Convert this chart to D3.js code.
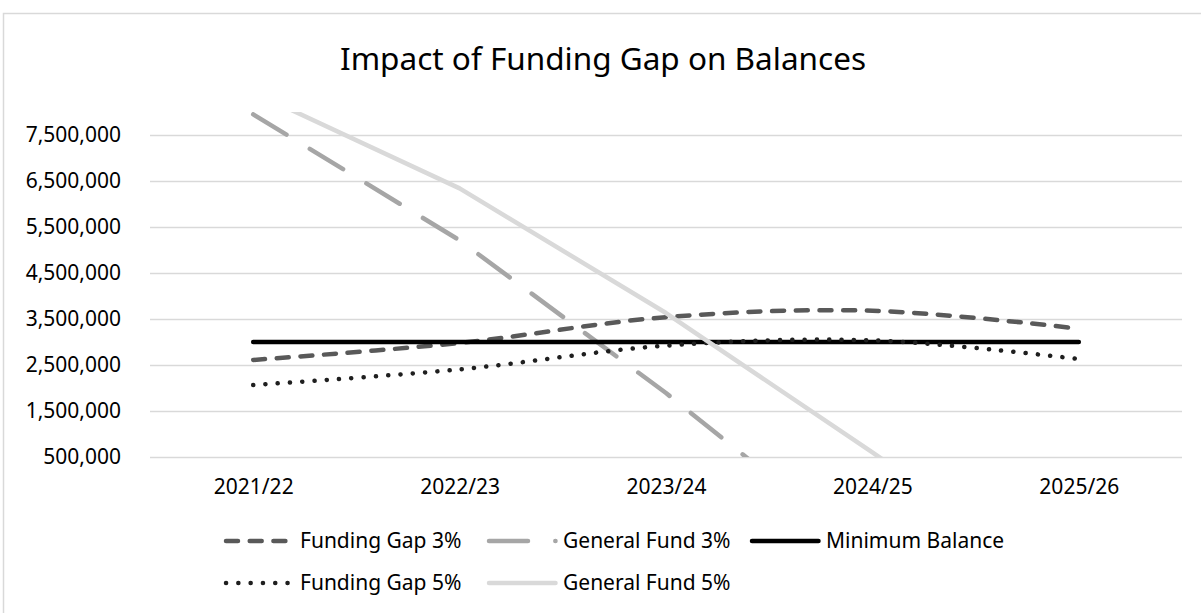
<!DOCTYPE html>
<html>
<head>
<meta charset="utf-8">
<script src="https://cdn.jsdelivr.net/npm/d3@7"></script>
<style>
  body { margin: 0; background: #fff; }
  text { font-family: "Noto Sans", sans-serif; fill: #000; }
</style>
</head>
<body>
<div id="chart"></div>
<script>
// values
var categories = ["2021/22", "2022/23", "2023/24", "2024/25", "2025/26"];
var fundingGap3 = [2610000, 2980000, 3540000, 3680000, 3290000];
var generalFund3 = [7950000, 5210000, 1890000, -1700000, -5000000];
var minimumBalance = [3000000, 3000000, 3000000, 3000000, 3000000];
var fundingGap5 = [2065000, 2405000, 2920000, 3035000, 2630000];
var generalFund5 = [8430000, 6340000, 3630000, 600000, -2500000];
var yTicks = [500000, 1500000, 2500000, 3500000, 4500000, 5500000, 6500000, 7500000];

var width = 1201, height = 613;
var margin = {top: 112, right: 19, bottom: 156, left: 150};

var svg = d3.select("#chart")
  .append("svg")
    .attr("width", width)
    .attr("height", height);

// chart border
svg.append("rect")
  .attr("x", 3.5).attr("y", 13.5)
  .attr("width", 1300).attr("height", 700)
  .attr("fill", "none")
  .attr("stroke", "#d9d9d9")
  .attr("stroke-width", 1.5);

svg.append("text")
  .attr("x", 603).attr("y", 70)
  .attr("text-anchor", "middle")
  .style("font-size", "31.5px")
  .text("Impact of Funding Gap on Balances");

var x = d3.scalePoint()
  .domain(categories)
  .range([margin.left, width - margin.right])
  .padding(0.5);

var y = d3.scaleLinear()
  .domain([500000, 8000000])
  .range([height - margin.bottom, margin.top]);

// gridlines
svg.append("g")
  .selectAll("line")
  .data(yTicks)
  .enter()
  .append("line")
    .attr("x1", margin.left)
    .attr("x2", width - margin.right)
    .attr("y1", function(d) { return y(d) + 0.5; })
    .attr("y2", function(d) { return y(d) + 0.5; })
    .attr("stroke", "#d9d9d9")
    .attr("stroke-width", 1.5);

// y axis labels
var yAxis = svg.append("g")
  .attr("transform", "translate(" + (margin.left - 29) + ",0)")
  .call(d3.axisLeft(y).tickValues(yTicks).tickSize(0).tickPadding(0).tickFormat(d3.format(",")));
yAxis.select(".domain").remove();
yAxis.selectAll("text").style("font-size", "21px").attr("fill", "#000").style("font-family", "Noto Sans");

// x axis labels
var xAxis = svg.append("g")
  .attr("transform", "translate(0," + (height - margin.bottom) + ")")
  .call(d3.axisBottom(x).tickSize(0).tickPadding(22));
xAxis.select(".domain").remove();
xAxis.selectAll("text").style("font-size", "21px").attr("fill", "#000").style("font-family", "Noto Sans");

svg.append("clipPath")
  .attr("id", "plot-clip")
  .append("rect")
    .attr("x", 0)
    .attr("y", margin.top)
    .attr("width", width)
    .attr("height", height - margin.top - margin.bottom);

var series = [
  {name: "Funding Gap 3%", values: fundingGap3, color: "#595959", dash: "12,11.7", smooth: true},
  {name: "General Fund 3%", values: generalFund3, color: "#a6a6a6", dash: "39,27.3", smooth: false},
  {name: "Minimum Balance", values: minimumBalance, color: "#000000", dash: null, smooth: false},
  {name: "Funding Gap 5%", values: fundingGap5, color: "#1f1f1f", dash: "0.1,12.2", smooth: true},
  {name: "General Fund 5%", values: generalFund5, color: "#d9d9d9", dash: null, smooth: false}
];

var plot = svg.append("g").attr("clip-path", "url(#plot-clip)");

series.forEach(function(s) {
  var line = d3.line()
    .x(function(d, i) { return x(categories[i]); })
    .y(function(d) { return y(d); })
    .curve(s.smooth ? d3.curveCardinal.tension(0) : d3.curveLinear);
  plot.append("path")
    .datum(s.values)
    .attr("d", line)
    .attr("fill", "none")
    .attr("stroke", s.color)
    .attr("stroke-width", 4.5)
    .attr("stroke-linecap", "round")
    .attr("stroke-linejoin", "round")
    .attr("stroke-dasharray", s.dash);
});

// legend
var legendPos = [
  {x: 224, y: 541}, {x: 487, y: 541}, {x: 750, y: 541},
  {x: 224, y: 583}, {x: 487, y: 583}
];
var legend = svg.append("g")
  .selectAll("g")
  .data(series)
  .enter()
  .append("g")
    .attr("transform", function(d, i) { return "translate(" + legendPos[i].x + "," + legendPos[i].y + ")"; });
legend.append("line")
  .attr("x1", 2).attr("x2", 68.5)
  .attr("stroke", function(d) { return d.color; })
  .attr("stroke-width", 4.5)
  .attr("stroke-linecap", "round")
  .attr("stroke-dasharray", function(d) { return d.dash; });
legend.append("text")
  .attr("x", 76)
  .attr("dy", "0.35em")
  .style("font-size", "21px")
  .text(function(d) { return d.name; });
</script>
</body>
</html>
